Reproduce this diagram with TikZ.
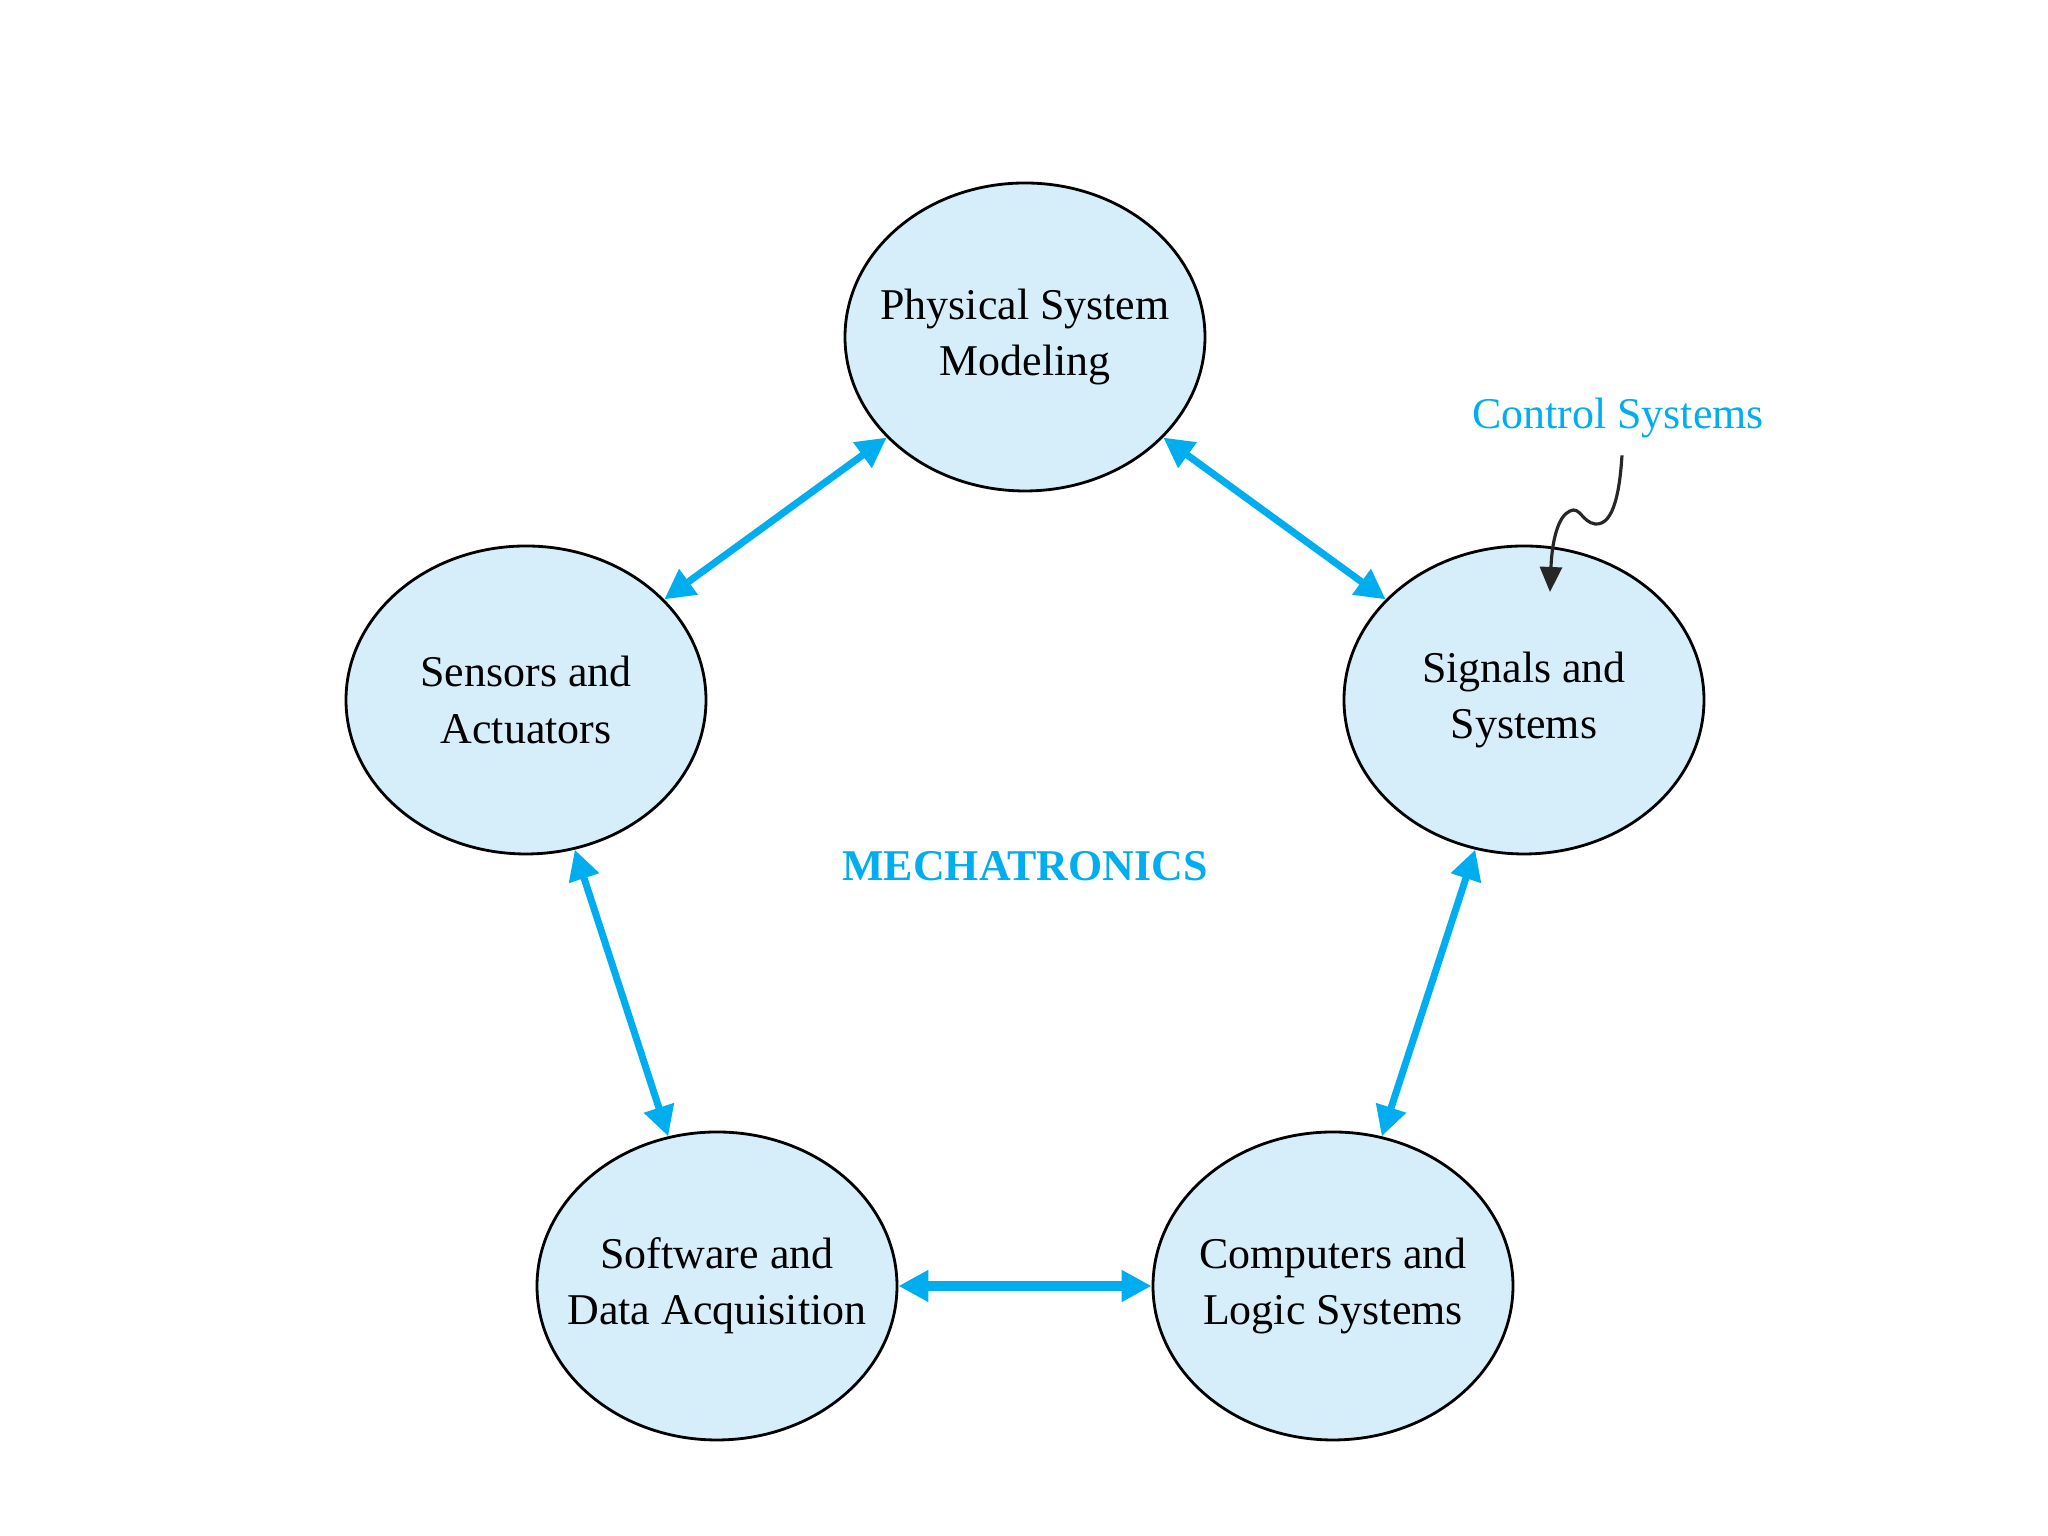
\documentclass[tikz,border=0pt]{standalone}
\usepackage{fontspec}
\setmainfont{Liberation Serif}
\usetikzlibrary{shapes.geometric,arrows.meta}
\definecolor{mechblue}{RGB}{0,174,239}
\definecolor{mechfill}{RGB}{214,238,250}
\begin{document}
\begin{tikzpicture}[
		field/.style={draw, ellipse, fill=mechfill, line width=0.8pt, minimum width=3.6cm, minimum height=3.08cm, inner xsep=-0.4cm, inner ysep=0pt, align=center, font=\fontsize{12.5}{16}\selectfont},
		link/.style={mechblue, line width=2pt, {Triangle[length=0.3cm,width=0.3cm]}-{Triangle[length=0.3cm,width=0.3cm]}},
		bluetext/.style={text=mechblue, font=\fontsize{12.5}{15}\selectfont}
	]
		\useasboundingbox (0,0) rectangle (20.48,15.36);

		\node[field] (phys) at (10.25,11.99) {Physical System\\Modeling};
		\node[field] (sens) at (5.26,8.36) {Sensors and\\Actuators};
		\node[field] (sig) at (15.24,8.36) {Signals and\\Systems};
		\node[field] (soft) at (7.17,2.50) {Software and\\Data Acquisition};
		\node[field] (comp) at (13.33,2.50) {Computers and\\Logic Systems};

		\draw[link] (phys) -- (sens);
		\draw[link] (phys) -- (sig);
		\draw[link] (sens) -- (soft);
		\draw[link] (sig) -- (comp);
		\draw[link, line width=2.8pt] (soft) -- (comp);

		\node[bluetext, font=\bfseries\fontsize{12.5}{15}\selectfont] (mech) at (10.25,6.70) {MECHATRONICS};
		\node[bluetext] (ctrl) at (16.18,11.18) {Control Systems};

		\coordinate (ctrltip) at (15.50,9.44);
		\draw[black!85, line width=0.9pt, -{Triangle[length=0.25cm,width=0.22cm]}] (ctrl.south) ++(0.04,-0.05)
			.. controls (16.2,10.5) and (16.15,10.1) .. (15.95,10.12)
			.. controls (15.82,10.14) and (15.8,10.3) .. (15.7,10.25)
			.. controls (15.58,10.2) and (15.52,9.95) .. (ctrltip);
	\end{tikzpicture}
\end{document}
